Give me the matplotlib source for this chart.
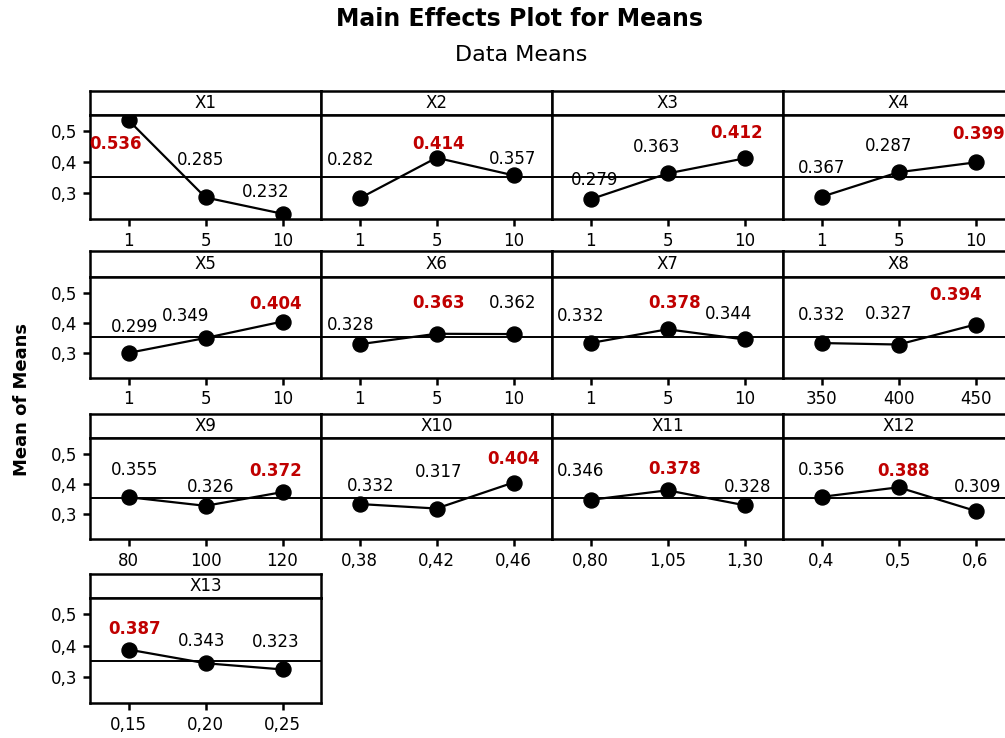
import numpy as np
import matplotlib
matplotlib.use("Agg")
import matplotlib.pyplot as plt

# ---- data -------------------------------------------------------------
factors = ["X1", "X2", "X3", "X4", "X5", "X6", "X7",
           "X8", "X9", "X10", "X11", "X12", "X13"]

levels = [
    ["1", "5", "10"], ["1", "5", "10"], ["1", "5", "10"], ["1", "5", "10"],
    ["1", "5", "10"], ["1", "5", "10"], ["1", "5", "10"], ["350", "400", "450"],
    ["80", "100", "120"], ["0,38", "0,42", "0,46"], ["0,80", "1,05", "1,30"],
    ["0,4", "0,5", "0,6"], ["0,15", "0,20", "0,25"],
]

means = [
    [0.536, 0.285, 0.232], [0.282, 0.414, 0.357], [0.279, 0.363, 0.412],
    [0.287, 0.367, 0.399], [0.299, 0.349, 0.404], [0.328, 0.363, 0.362],
    [0.332, 0.378, 0.344], [0.332, 0.327, 0.394], [0.355, 0.326, 0.372],
    [0.332, 0.317, 0.404], [0.346, 0.378, 0.328], [0.356, 0.388, 0.309],
    [0.387, 0.343, 0.323],
]

value_labels = [
    ["0.536", "0.285", "0.232"], ["0.282", "0.414", "0.357"], ["0.279", "0.363", "0.412"],
    ["0.367", "0.287", "0.399"], ["0.299", "0.349", "0.404"], ["0.328", "0.363", "0.362"],
    ["0.332", "0.378", "0.344"], ["0.332", "0.327", "0.394"], ["0.355", "0.326", "0.372"],
    ["0.332", "0.317", "0.404"], ["0.346", "0.378", "0.328"], ["0.356", "0.388", "0.309"],
    ["0.387", "0.343", "0.323"],
]

y_ticks = [0.3, 0.4, 0.5]
y_tick_labels = ["0,3", "0,4", "0,5"]

# ---- layout (pixels) --------------------------------------------------
W, H = 1005, 738
col_left = [90, 321, 552, 783]
col_width = 231
rows = [(91, 115, 219), (251, 277, 378), (414, 438, 539), (574, 598, 703)]

# label offsets from each point, in pixels (dx, dy upward)
label_offsets = [
    [(-13, -24), (-5, 37), (-17, 22)],
    [(-9, 38), (2, 14), (-1, 16)],
    [(4, 19), (-11, 26), (-8, 25)],
    [(0, 29), (-10, 26), (3, 28)],
    [(6, 26), (-20, 22), (-7, 18)],
    [(-9, 19), (2, 31), (-1, 31)],
    [(-10, 27), (7, 26), (-16, 25)],
    [(0, 28), (-10, 31), (-20, 30)],
    [(6, 27), (5, 19), (-7, 21)],
    [(11, 18), (2, 37), (0, 24)],
    [(-10, 29), (7, 21), (3, 18)],
    [(0, 27), (5, 16), (2, 24)],
    [(6, 21), (-4, 22), (-7, 27)],
]

FS = 12
RED = "#C00000"
SPINE_W = 1.8
ylim = (0.215, 0.553)

grand_mean = float(np.mean(np.array(means)))


def rect(left, top, width, height):
    return [left / W, 1 - (top + height) / H, width / W, height / H]


fig = plt.figure(figsize=(W / 100, H / 100), dpi=100)
fig.patch.set_facecolor("white")

fig.text(520 / W, 1 - 19 / H, "Main Effects Plot for Means", ha="center",
         va="center", fontsize=17, fontweight="bold")
fig.text(521 / W, 1 - 55 / H, "Data Means", ha="center", va="center",
         fontsize=16)
fig.text(22 / W, 1 - 400 / H, "Mean of Means", ha="center", va="center",
         rotation=90, fontsize=13, fontweight="bold")

for i, name in enumerate(factors):
    r, c = divmod(i, 4)
    top, hdr_bottom, bottom = rows[r]
    left = col_left[c]

    # strip with the factor name
    hax = fig.add_axes(rect(left, top, col_width, hdr_bottom - top))
    hax.set_xticks([])
    hax.set_yticks([])
    for s in hax.spines.values():
        s.set_linewidth(SPINE_W)
    hax.text(0.5, 0.5, name, ha="center", va="center", fontsize=FS,
             transform=hax.transAxes)

    ax = fig.add_axes(rect(left, hdr_bottom, col_width, bottom - hdr_bottom))
    for s in ax.spines.values():
        s.set_linewidth(SPINE_W)
    x = np.arange(len(levels[i]))
    ax.axhline(grand_mean, color="black", lw=1.4, zorder=1)
    ax.plot(x, means[i], color="black", lw=1.6, marker="o", ms=10.8,
            zorder=3)
    ax.set_xlim(-0.5, 2.5)
    ax.set_ylim(*ylim)
    ax.set_xticks(x)
    ax.set_xticklabels(levels[i], fontsize=FS)
    ax.tick_params(axis="x", direction="out", length=5, width=SPINE_W, pad=4)
    if c == 0:
        ax.set_yticks(y_ticks)
        ax.set_yticklabels(y_tick_labels, fontsize=FS)
        ax.tick_params(axis="y", direction="out", length=5, width=SPINE_W,
                       pad=4)
    else:
        ax.set_yticks([])

    top_idx = int(np.argmax(means[i]))
    for j, (xv, yv) in enumerate(zip(x, means[i])):
        dx, dy = label_offsets[i][j]
        hot = j == top_idx
        ax.annotate(value_labels[i][j], (xv, yv), xytext=(dx, dy),
                    textcoords="offset pixels", ha="center", va="center",
                    fontsize=FS, color=RED if hot else "black",
                    fontweight="bold" if hot else "normal",
                    annotation_clip=False, zorder=4)

fig.savefig("out.png", dpi=100)
